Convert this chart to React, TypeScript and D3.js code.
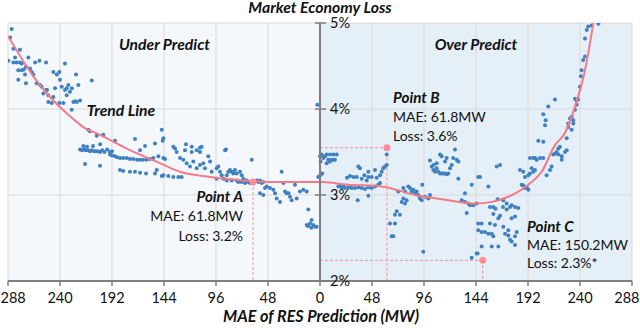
import React from "react";
import * as d3 from "d3";

// ---- data (MAE in MW, loss in %) ----
const underPredict: [number, number][] = [
  [284.6,4.93],[286,4.83],[283,4.70],[287.7,4.56],[281.5,4.60],[277,4.69],[283,4.54],[280,4.54],[277,4.54],[275.3,4.53],
  [278.5,4.45],[275.3,4.45],[273.5,4.46],[271.4,4.49],[269.2,4.60],[267.7,4.47],[266.1,4.43],[264.6,4.40],[271.4,4.30],[278.5,4.34],
  [272.3,4.40],[263,4.54],[259,4.56],[252.9,4.54],[261.5,4.30],[258.4,4.28],[256.9,4.26],[255.4,4.18],[252.9,4.22],[250.8,4.08],
  [247.6,4.07],[246.2,4.14],[244.6,4.24],[246.2,4.43],[243,4.40],[240.6,4.43],[240,4.34],[238.4,4.26],[235.4,4.53],[235.4,4.22],
  [233.8,4.24],[232.3,4.28],[230.8,4.20],[229,4.24],[233.8,4.16],[227.7,4.08],[226,4.09],[224.5,4.08],[223.1,4.28],[225.2,4.40],
  [221.5,4.10],[229.2,3.99],[210.7,4.33],[240.6,4.07],[236.9,4.07],[252,4.22],[250.8,4.16],
  [221.5,3.53],[219.7,3.52],[217.8,3.53],[216,3.52],[214,3.52],[212.3,3.51],[210.5,3.52],[208.6,3.51],[206.8,3.51],[204.9,3.51],
  [203,3.50],[201,3.52],[199,3.50],[196.5,3.53],[194,3.50],[192,3.51],
  [213.8,3.76],[212.5,3.74],[206.1,3.69],[200,3.70],[189.2,3.63],[170.8,3.65],[146.1,3.76],[144.6,3.66],[218.5,3.57],[215,3.56],
  [209.5,3.57],[203,3.59],[216.9,3.36],[203.1,3.34],
  [193.8,3.47],[189.2,3.45],[184.6,3.43],[178.4,3.43],[172.3,3.42],[166.1,3.41],[160,3.41],[153.9,3.43],[149.2,3.45],
  [191.9,3.46],[187.3,3.44],[181.6,3.43],[175.4,3.42],[168.9,3.41],[163.3,3.41],[156.9,3.42],
  [184.6,3.29],[181.6,3.28],[175.4,3.27],[170.8,3.27],[166.1,3.26],[160.6,3.25],[152.3,3.25],[150.7,3.29],[144.6,3.23],
  [161.5,3.57],[152.3,3.60],[166.1,3.52],
  [144.6,3.43],[143,3.42],[146.1,3.22],[140,3.22],[135.4,3.21],[130.8,3.21],[127.7,3.21],[133.8,3.54],[132.3,3.50],[135.4,3.56],
  [124.6,3.52],[118.4,3.50],[113.8,3.52],[109.2,3.56],[110.8,3.50],[129.2,3.43],[126.2,3.41],[123.1,3.37],[120,3.33],[116.9,3.39],
  [113.8,3.31],[110.8,3.35],[107.7,3.37],[106.2,3.31],[103.1,3.45],[101.5,3.39],[100,3.27],[95.4,3.31],[93.9,3.33],[92.3,3.27],
  [90.8,3.23],[87.7,3.52],[86.1,3.23],[84.6,3.27],[83.1,3.29],[81.5,3.27],[80,3.25],[78.5,3.29],[76.9,3.25],[73.8,3.27],
  [72.3,3.23],[70.8,3.19],[67.7,3.17],[66.2,3.15],[63,3.41],[64.6,3.14],[61.6,3.15],[58.4,3.17],[57,3.15],[55.4,3.17],
  [53.8,3.14],[52.3,3.15],[95.4,3.19],[89.2,3.19],[86.1,3.17],[81.5,3.17],[76.9,3.17],[75.4,3.15],[72.3,3.15],[69.2,3.14],
  [123.7,3.59],[118.4,3.56],[110.8,3.55],[86.8,3.53],[145.2,3.63],
  [55.4,3.02],[52.3,3.00],[50.8,3.08],[49.2,3.10],[46.2,3.08],[43.1,3.06],[41.5,3.02],[40,2.96],[36.9,2.92],[35.4,3.27],
  [33.8,3.14],[32.3,3.04],[30.8,3.02],[29,3.02],[27.7,2.98],[26.2,2.94],[23.1,3.12],[21.5,2.96],[18.5,3.04],[15.4,3.06],
  [12.3,3.04],[10.8,2.83],[12.3,2.65],[9.2,2.67],[7.7,2.71],[6.2,2.65],[4.6,2.63],[3.1,2.63],[11,2.64],[8,2.62],
  [2.5,4.05],[1.6,3.21],
];

const overPredict: [number, number][] = [
  [0,3.45],[1.5,3.47],[3.1,3.43],[4.6,3.45],[6.2,3.47],[7.7,3.41],[9.2,3.39],[10.8,3.41],[12.3,3.41],[13.8,3.41],
  [9.2,3.47],[12.3,3.47],[15.4,3.47],[0.5,3.39],[6.2,3.37],[0.3,3.23],[2,3.25],
  [16.9,3.10],[20,3.09],[23.1,3.08],[26.1,3.09],[29.3,3.08],[32.3,3.08],[35.4,3.09],[38.5,3.08],[41.5,3.07],[44.6,3.09],
  [47.7,3.08],[50.8,3.10],[53.8,3.12],[55.4,3.14],[18.5,3.11],[22,3.10],[27.7,3.10],
  [27.7,3.22],[30.8,3.21],[33.9,3.21],[38.5,3.19],[43.1,3.17],[44.6,3.21],[47.7,3.21],[52.3,3.20],[55.4,3.23],[56.9,3.27],
  [58.4,3.31],[60,3.33],[61.6,3.35],[61.6,3.47],[35.4,3.33],[36.9,3.31],[44.6,3.27],[50.8,3.29],[25,3.20],[41,3.23],
  [34.8,2.94],[44.6,2.99],
  [64.6,2.67],[69.2,2.67],[66.2,2.52],[67.7,2.52],[69.2,2.77],[70.8,2.81],[73.8,2.77],[75.4,2.92],[76.9,2.96],[78.5,2.90],
  [80,2.94],[72.3,3.04],[76.9,3.08],[78.5,3.04],[81.5,3.10],[83.1,3.08],[84.6,3.04],[86.1,3.06],[87.7,3.02],[89.2,3.04],
  [90.7,3.00],[92.3,2.96],[93.9,2.94],[94.4,3.12],[96.9,2.98],[100,2.96],[101.5,3.00],[95.3,2.34],
  [101.5,3.40],[103.1,3.33],[104.6,3.29],[106.2,3.27],[107.7,3.31],[109.2,3.27],[110.8,3.25],[112.3,3.25],[113.8,3.25],[115.4,3.25],
  [116.9,3.24],[118.4,3.25],[120,3.31],[121.6,3.35],[123,3.43],[124.6,3.53],[126.2,3.41],[127.7,3.39],[110.8,3.47],[112.3,3.45],
  [115.4,3.39],[107.7,3.37],[127.7,3.19],[116.9,3.43],[105,3.35],
  [130.8,2.94],[133.8,2.92],[136.9,2.90],[138.5,2.88],[141.5,2.88],[144.6,2.90],[133.8,3.02],[135.4,2.79],[140,3.12],[146.1,3.21],
  [146.1,2.67],[140,2.27],[145.5,2.32],
  [147.7,3.21],[155.4,3.10],[163.1,3.33],[166.2,3.35],[164,2.95],[156.9,2.86],[160,2.86],[162,2.84],[164.6,2.73],[166.2,2.76],
  [160,2.78],[149.2,2.67],[146.1,2.59],[149.2,2.57],[152.3,2.57],[155.4,2.55],[158.5,2.55],[160,2.52],[156.9,2.67],[161.5,2.65],
  [169.2,2.63],[170.8,2.55],[173.8,2.53],[175.4,2.48],[176.9,2.46],[180,2.42],[180,2.52],[181.6,2.57],[173.8,2.59],[172.3,2.83],
  [175.4,2.86],[180,2.75],[183,2.85],[176.9,2.73],[158.5,2.40],[164.6,2.40],[149.2,2.40],[144.6,2.32],[169.2,2.94],[172.3,2.90],
  [180,2.86],[176.9,2.88],[169,2.86],
  [184.6,3.29],[187.7,3.27],[189.2,3.21],[192.3,3.23],[193.8,3.25],[195.4,3.31],[196.9,3.27],[198.5,3.29],[186.2,3.12],[187.7,3.11],
  [189.2,3.08],[190.8,3.09],[192.3,3.06],[200,3.41],[203.1,3.43],[206.1,3.43],[209.2,3.23],[212.3,3.29],[213.8,3.33],[215.4,3.47],
  [216.9,3.48],[218.5,3.50],[220,3.54],[220,3.47],[223.1,3.41],[223.1,3.45],[226.1,3.50],[227.7,3.52],[193.8,3.43],[196.9,3.43],
  [198.5,3.43],
  [246.2,4.92],[247.6,4.96],[250.8,4.97],[256.9,4.99],[244.6,4.82],[243,4.57],[244.6,4.61],[241.5,4.45],[240.9,4.38],[240,4.26],
  [235.4,4.12],[236.9,4.10],[238.1,4.11],[236.9,4.05],[235.4,3.99],[232.3,3.91],[230.8,3.89],[233.8,3.87],[229.2,3.83],[233.8,3.83],
  [229.2,3.79],[232.3,3.76],[227.7,3.66],[221.5,3.56],[216.9,4.11],[210.7,4.03],[206.1,3.94],[208.3,3.87],[207.7,3.81],[201.5,3.63],
  [206.1,3.62],
];

const trendUnder: [number, number][] = [
  [288,4.85],[264.6,4.38],[249.2,4.14],[233.8,3.95],[218.5,3.79],[203.1,3.70],[178.4,3.54],[147.7,3.37],[129.2,3.27],[101.5,3.21],[70.8,3.17],[46.2,3.15],[0,3.15],
];
const trendOver: [number, number][] = [
  [26.1,3.12],[57,3.10],[87.7,3.00],[118.4,2.94],[143,2.90],[158.5,2.92],[173.8,2.98],[192.3,3.12],[204.6,3.27],[216.9,3.58],[226.1,3.72],[235.4,4.03],[244.6,4.45],[252.3,5.0],
];

const xTicks = [-288, -240, -192, -144, -96, -48, 0, 48, 96, 144, 192, 240, 288];
const yTicks = [2, 3, 4, 5];

const pointA = { mae: 61.8, loss: 3.15, side: -1 };
const pointB = { mae: 61.8, loss: 3.55, side: 1 };
const pointC = { mae: 150.2, loss: 2.24, side: 1 };

const title = "Market Economy Loss";
const xTitle = "MAE of RES Prediction (MW)";

const FONT = "Lato, 'Open Sans', sans-serif";

export default function App() {
  const W = 640, H = 328;
  const x = d3.scaleLinear().domain([-288, 288]).range([8, 632]);
  const y = d3.scaleLinear().domain([2, 5]).range([281, 23]);
  const x0 = x(0);

  const trend: [number, number][] = [
    ...trendUnder.map(([m, l]) => [-m, l] as [number, number]),
    ...trendOver,
  ];
  const line = d3
    .line<[number, number]>()
    .x((d) => x(d[0]))
    .y((d) => y(d[1]))
    .curve(d3.curveMonotoneX);

  const dotColor = "#3f80c2";
  const pink = "#f47a85";
  const dash = "#ff8c96";

  const px = (p: { mae: number; side: number }) => x(p.side * p.mae);

  return (
    <svg width={W} height={H} style={{ position: "absolute", left: 0, top: 0 }} fontFamily={FONT}>
      <defs>
        <clipPath id="plot">
          <rect x={8} y={23} width={624} height={258} />
        </clipPath>
      </defs>
      <rect width={W} height={H} fill="#ffffff" />
      <rect x={8} y={23} width={x0 - 8} height={258} fill="#f4f8fd" />
      <rect x={x0} y={23} width={632 - x0} height={258} fill="#e5eff8" />
      {/* grid */}
      {xTicks.map((t) => (
        <line key={"gx" + t} x1={x(t)} x2={x(t)} y1={23} y2={281} stroke="#d9d9d9" strokeWidth={1} />
      ))}
      {yTicks.map((t) => (
        <line key={"gy" + t} x1={8} x2={632} y1={y(t)} y2={y(t)} stroke="#d9d9d9" strokeWidth={1} />
      ))}
      {/* dashed guides */}
      <g stroke={dash} strokeWidth={1} strokeDasharray="3,2" fill="none">
        <line x1={px(pointA)} x2={px(pointA)} y1={y(pointA.loss)} y2={281} />
        <line x1={x0} x2={px(pointB)} y1={y(pointB.loss)} y2={y(pointB.loss)} />
        <line x1={px(pointB)} x2={px(pointB)} y1={y(pointB.loss)} y2={281} />
        <line x1={x0} x2={px(pointC)} y1={y(pointC.loss)} y2={y(pointC.loss)} />
        <line x1={px(pointC)} x2={px(pointC)} y1={y(pointC.loss)} y2={281} />
      </g>
      {/* dots */}
      <g fill={dotColor} clipPath="url(#plot)">
        {underPredict.map(([m, l], i) => (
          <circle key={"u" + i} cx={x(-m)} cy={y(l)} r={2} />
        ))}
        {overPredict.map(([m, l], i) => (
          <circle key={"o" + i} cx={x(m)} cy={y(l)} r={2} />
        ))}
      </g>
      {/* trend */}
      <path d={line(trend) || ""} fill="none" stroke={pink} strokeWidth={2} clipPath="url(#plot)" />
      {/* markers */}
      {[pointA, pointB, pointC].map((p, i) => (
        <circle key={"m" + i} cx={px(p)} cy={y(p.loss)} r={3.5} fill={dash} />
      ))}
      {/* axes */}
      <line x1={8} x2={632} y1={281} y2={281} stroke="#7f7f7f" strokeWidth={2} />
      {xTicks.map((t) => (
        <line key={"tx" + t} x1={x(t)} x2={x(t)} y1={281} y2={286} stroke="#7f7f7f" strokeWidth={1.5} />
      ))}
      <line x1={x0} x2={x0} y1={23} y2={281} stroke="#7f7f7f" strokeWidth={2} />
      {yTicks.map((t) => (
        <line key={"ty" + t} x1={x0 - 5} x2={x0 + 6} y1={y(t)} y2={y(t)} stroke="#7f7f7f" strokeWidth={1.5} />
      ))}
      {/* tick labels */}
      {xTicks.map((t, i) => {
        const first = i === 0;
        const last = i === xTicks.length - 1;
        return (
          <text
            key={"lx" + t}
            x={first ? 0.5 : last ? 639.5 : x(t)}
            y={299}
            textAnchor={first ? "start" : last ? "end" : "middle"}
            dominantBaseline="middle"
            fontSize={14.5}
            fill="#111"
          >
            {Math.abs(t)}
          </text>
        );
      })}
      {yTicks.map((t) => (
        <text key={"ly" + t} x={x0 + 10} y={y(t) + 1} dominantBaseline="middle" fontSize={14.5} fill="#111">
          {t + "%"}
        </text>
      ))}
      {/* titles */}
      <text x={320} y={13} textAnchor="middle" fontSize={15.8} fontWeight="bold" fontStyle="italic" fill="#111">
        {title}
      </text>
      <text x={321} y={318} textAnchor="middle" dominantBaseline="middle" fontSize={16.2} fontWeight="bold" fontStyle="italic" fill="#111">
        {xTitle}
      </text>
      <g fontSize={15.7} fontWeight="bold" fontStyle="italic" fill="#111" dominantBaseline="middle">
        <text x={164.5} y={46} textAnchor="middle">Under Predict</text>
        <text x={476} y={46} textAnchor="middle">Over Predict</text>
        <text x={121} y={112} textAnchor="middle">Trend Line</text>
      </g>
      <g fontSize={15.2} fontWeight="bold" fontStyle="italic" fill="#111" dominantBaseline="middle">
        <text x={243} y={198} textAnchor="end">Point A</text>
        <text x={393} y={99}>Point B</text>
        <text x={527} y={228}>Point C</text>
      </g>
      <g fontSize={14} fill="#111" dominantBaseline="middle">
        <text x={243} y={217} textAnchor="end">MAE: 61.8MW</text>
        <text x={243} y={237} textAnchor="end">Loss: 3.2%</text>
        <text x={393} y={118}>MAE: 61.8MW</text>
        <text x={393} y={137}>Loss: 3.6%</text>
        <text x={527} y={246}>MAE: 150.2MW</text>
        <text x={527} y={264}>Loss: 2.3%*</text>
      </g>
    </svg>
  );
}
